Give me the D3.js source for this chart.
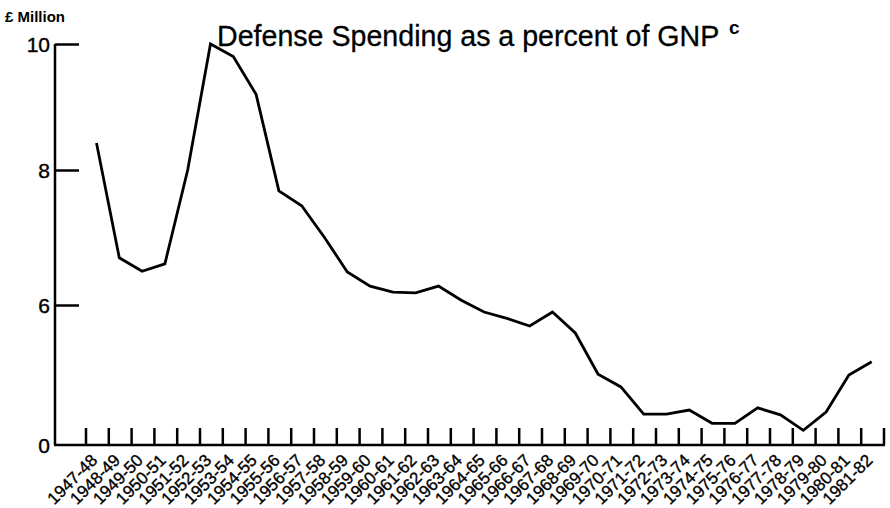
<!DOCTYPE html>
<html>
<head>
<meta charset="utf-8">
<script src="https://cdn.jsdelivr.net/npm/d3@7"></script>
<style>
  html, body { margin: 0; padding: 0; background: #fff; }
  svg { display: block; font-family: "Liberation Sans", Arial, Helvetica, sans-serif; }
</style>
</head>
<body>
<svg id="chart" width="890" height="508"></svg>
<script>
const categories = ["1947-48","1948-49","1949-50","1950-51","1951-52","1952-53","1953-54","1954-55","1955-56","1956-57","1957-58","1958-59","1959-60","1960-61","1961-62","1962-63","1963-64","1964-65","1965-66","1966-67","1967-68","1968-69","1969-70","1970-71","1971-72","1972-73","1973-74","1974-75","1975-76","1976-77","1977-78","1978-79","1979-80","1980-81","1981-82"];
const spending = [8.43,6.70,6.50,6.61,8.0,10.0,9.8,9.2,7.69,7.47,7.0,6.49,6.28,6.19,6.18,6.28,6.07,5.9,5.81,5.7,5.9,5.6,5.01,4.83,4.44,4.44,4.5,4.31,4.31,4.53,4.43,4.21,4.47,5.0,5.19];
const yTickValues = [4, 6, 8, 10];
const yTickLabels = ["0", "6", "8", "10"];
const title = "Defense Spending as a percent of GNP";
const titleNote = "c";
const yUnit = "£ Million";

const svg = d3.select("#chart");

const x = d3.scaleBand().domain(categories).range([86, 884]).padding(0);
// hand-drawn axis: uneven spacing between the labelled values
const y = d3.scaleLinear().domain(yTickValues).range([445, 305, 170, 44]);

const ink = "#000";

// Y axis
const yAxis = d3.axisLeft(y).tickValues(yTickValues)
  .tickFormat((d, i) => yTickLabels[i]).tickSize(0).tickPadding(5);
const gy = svg.append("g").attr("transform", "translate(55,0)").call(yAxis);
gy.select(".domain").attr("stroke", ink).attr("stroke-width", 2.5).attr("d", `M0,${y(10)}V${y(4)}`);
gy.selectAll(".tick text").attr("font-size", 21).attr("fill", ink).attr("dy", "0.36em")
  .attr("stroke", ink).attr("stroke-width", 0.4);
gy.selectAll(".tick").filter(d => d !== 4).append("line")
  .attr("x1", 0).attr("x2", 24).attr("y1", 0).attr("y2", 0)
  .attr("stroke", ink).attr("stroke-width", 2.5);

// X axis baseline
svg.append("line").attr("x1", 54).attr("x2", 885).attr("y1", y(4)).attr("y2", y(4))
  .attr("stroke", ink).attr("stroke-width", 2.5);

// X ticks at band boundaries
const tickXs = categories.map(c => x(c)).concat([x.range()[1]]);
svg.append("g").selectAll("line").data(tickXs).join("line")
  .attr("x1", d => d).attr("x2", d => d)
  .attr("y1", y(4)).attr("y2", y(4) - 17)
  .attr("stroke", ink).attr("stroke-width", 2.5);

// X labels
svg.append("g").selectAll("text").data(categories).join("text")
  .attr("transform", d => `translate(${x(d) + 4},${y(4) + 8}) rotate(-45)`)
  .attr("text-anchor", "end").attr("dy", "0.7em")
  .attr("font-size", 17).attr("fill", ink)
  .attr("stroke", ink).attr("stroke-width", 0.35)
  .text(d => d);

// Line
const line = d3.line()
  .x((d, i) => x(categories[i]) + x.bandwidth() * 0.46)
  .y(d => y(d));
svg.append("path").datum(spending)
  .attr("d", line).attr("fill", "none")
  .attr("stroke", ink).attr("stroke-width", 2.8).attr("stroke-linejoin", "miter");

// Title
svg.append("text").attr("x", 217).attr("y", 46)
  .attr("font-size", 28.6).attr("fill", ink)
  .attr("stroke", ink).attr("stroke-width", 0.3).text(title);
svg.append("text").attr("x", 729).attr("y", 34)
  .attr("font-size", 19).attr("font-weight", "bold").attr("fill", ink).text(titleNote);

// Unit label
svg.append("text").attr("x", 5).attr("y", 22)
  .attr("font-size", 15).attr("font-weight", "bold").attr("fill", ink).text(yUnit);
</script>
</body>
</html>
